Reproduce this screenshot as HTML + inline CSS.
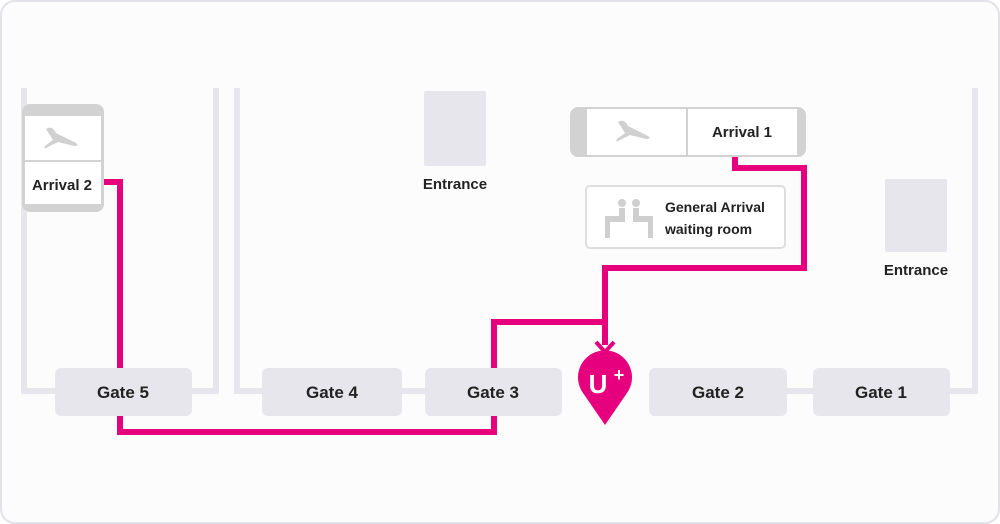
<!DOCTYPE html>
<html><head><style>
html,body{margin:0;padding:0;background:#fff;}
svg{display:block;font-family:"Liberation Sans",sans-serif;}
</style></head><body>
<svg width="1000" height="524" viewBox="0 0 1000 524" xmlns="http://www.w3.org/2000/svg">
<rect x="1" y="1" width="998" height="522" rx="14" fill="#fcfcfd" stroke="#e2e2ea" stroke-width="2"/>
<g stroke="#e6e6ec" stroke-width="6" fill="none">
<polyline points="24,88 24,391 60,391"/>
<polyline points="185,391 216,391 216,88"/>
<polyline points="237,88 237,391 270,391"/>
<line x1="395" y1="391" x2="430" y2="391"/>
<line x1="780" y1="391" x2="820" y2="391"/>
<polyline points="945,391 975,391 975,88"/>
</g>
<!-- magenta (behind gates) -->
<g stroke="#e6007e" stroke-width="6" fill="none">
<polyline points="104,182 120,182 120,432 494,432 494,322 605,322"/>
<polyline points="735,157 735,168 804,168 804,268 605,268 605,345"/>
</g>
<g fill="#e6e6ec">
<rect x="55" y="368" width="137" height="48" rx="6"/>
<rect x="262" y="368" width="140" height="48" rx="6"/>
<rect x="425" y="368" width="137" height="48" rx="6"/>
<rect x="649" y="368" width="138" height="48" rx="6"/>
<rect x="813" y="368" width="137" height="48" rx="6"/>
<rect x="424" y="91" width="62" height="75" rx="2"/>
<rect x="885" y="179" width="62" height="73" rx="2"/>
</g>
<g font-size="17" font-weight="bold" fill="#222" text-anchor="middle">
<text x="123" y="398">Gate 5</text>
<text x="332" y="398">Gate 4</text>
<text x="493" y="398">Gate 3</text>
<text x="718" y="398">Gate 2</text>
<text x="881" y="398">Gate 1</text>
<text x="455" y="189" font-size="15">Entrance</text>
<text x="916" y="275" font-size="15">Entrance</text>
</g>
<!-- Arrival 2 -->
<rect x="22" y="104" width="82" height="108" rx="8" fill="#d2d2d2"/>
<rect x="25" y="116" width="76" height="44" fill="#fff"/>
<rect x="25" y="162" width="76" height="42" fill="#fff"/>
<text x="62" y="190" font-size="15" font-weight="bold" fill="#222" text-anchor="middle">Arrival 2</text>
<g fill="#d0d0d0"><path d="M46 129 q6 -4 10 4 l20 10 q4 3 -2 3 l-16 -4 -12 6 q-3 1 -1 -2 l8 -6 z"/></g>
<!-- Arrival 1 -->
<rect x="570" y="107" width="236" height="50" rx="8" fill="#d2d2d2"/>
<rect x="587" y="109" width="99" height="46" fill="#fff"/>
<rect x="688" y="109" width="109" height="46" fill="#fff"/>
<text x="742" y="137" font-size="15" font-weight="bold" fill="#222" text-anchor="middle">Arrival 1</text>
<g fill="#d0d0d0"><path d="M618 122 q6 -4 10 4 l20 10 q4 3 -2 3 l-16 -4 -12 6 q-3 1 -1 -2 l8 -6 z"/></g>
<!-- waiting room -->
<rect x="586" y="186" width="199" height="62" rx="4" fill="#fff" stroke="#dedede" stroke-width="2"/>
<g fill="#cfcfcf">
<circle cx="622" cy="203" r="4"/><circle cx="636" cy="203" r="4"/>
<rect x="619" y="208" width="6" height="14"/><rect x="633" y="208" width="6" height="14"/>
<rect x="605" y="216" width="20" height="6"/><rect x="633" y="216" width="20" height="6"/>
<rect x="605" y="216" width="5" height="22"/><rect x="648" y="216" width="5" height="22"/>
</g>
<text x="665" y="212" font-size="14" font-weight="bold" fill="#222">General Arrival</text>
<text x="665" y="234" font-size="14" font-weight="bold" fill="#222">waiting room</text>
<path d="M596 342 L605 352 L614 342" stroke="#e6007e" stroke-width="4" fill="none"/>
<path d="M605 425 L583 393 A27 27 0 1 1 627 393 Z" fill="#e6007e"/>
<text x="598" y="393" font-size="26" font-weight="bold" fill="#fff" text-anchor="middle">U</text>
<text x="619" y="381" font-size="18" font-weight="bold" fill="#fff" text-anchor="middle">+</text>
</svg>
</body></html>
